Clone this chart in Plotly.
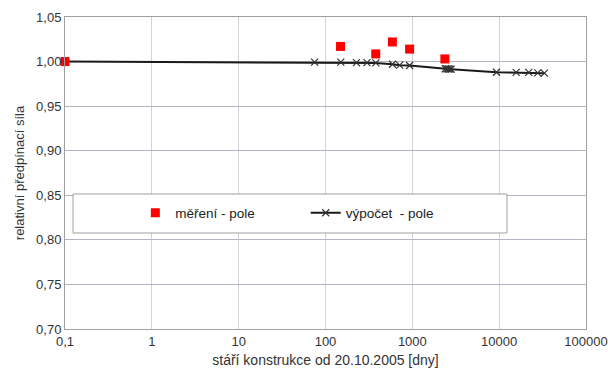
import plotly.graph_objects as go

# measured values (měření - pole)
x_meas = [0.1, 149, 379, 589, 931, 2370]
y_meas = [1.000, 1.017, 1.0086, 1.022, 1.014, 1.003]

# computed values (výpočet - pole)
x_calc = [0.1, 75, 150, 227, 300, 380, 590, 715, 930, 2400, 2500, 2600, 2700, 2800,
          9300, 15700, 21900, 27800, 33200]
y_calc = [1.000, 0.9993, 0.9993, 0.9989, 0.9989, 0.9985, 0.997, 0.996, 0.9956, 0.9919,
          0.9918, 0.9917, 0.9916, 0.9915, 0.988, 0.9878, 0.9878, 0.9874, 0.987]

x_tickvals = [0.1, 1, 10, 100, 1000, 10000, 100000]
x_ticktext = ["0,1", "1", "10", "100", "1000", "10000", "100000"]
y_tickvals = [0.70, 0.75, 0.80, 0.85, 0.90, 0.95, 1.00, 1.05]
y_ticktext = ["0,70", "0,75", "0,80", "0,85", "0,90", "0,95", "1,00", "1,05"]

FONT = "Liberation Sans, Arial, sans-serif"

fig = go.Figure()
fig.add_trace(go.Scatter(
    x=x_calc, y=y_calc, mode="lines+markers", name="výpočet  - pole",
    line=dict(color="#1a1a1a", width=2),
    marker=dict(symbol="x-thin", size=7, line=dict(color="#333333", width=1.2)),
    legend="legend2", cliponaxis=True,
))
fig.add_trace(go.Scatter(
    x=x_meas, y=y_meas, mode="markers", name="měření - pole",
    marker=dict(symbol="square", size=9, color="#ff0000"),
    legend="legend", cliponaxis=False,
))

# legend frame
fig.add_shape(type="rect", xref="paper", yref="paper",
              x0=0.0154, x1=0.8484, y0=0.3077, y1=0.4327,
              line=dict(color="#a0a0a0", width=1), fillcolor="white", layer="above")

legend_common = dict(orientation="h", bgcolor="rgba(0,0,0,0)", borderwidth=0,
                     font=dict(family=FONT, size=13.5, color="#222222"),
                     xanchor="left", yanchor="middle", y=0.372)

fig.update_layout(
    width=608, height=372,
    margin=dict(l=65, r=22, t=17, b=43),
    paper_bgcolor="white", plot_bgcolor="white",
    font=dict(family=FONT, size=13, color="#333333"),
    showlegend=True,
    legend=dict(x=0.135, **legend_common),
    legend2=dict(x=0.462, **legend_common),
    xaxis=dict(
        type="log", range=[-1, 5], automargin=False,
        tickvals=x_tickvals, ticktext=x_ticktext,
        showgrid=True, gridcolor="#d2d3da", gridwidth=1,
        showline=True, mirror=True, linecolor="#a0a0a0", linewidth=1,
        ticks="", tickfont=dict(size=13, color="#333333"),
        ticklabeloverflow="allow",
        title=dict(text="stáří konstrukce od 20.10.2005 [dny]",
                   font=dict(size=14, color="#333333"), standoff=7),
        zeroline=False,
    ),
    yaxis=dict(
        range=[0.70, 1.05], automargin=False,
        tickvals=y_tickvals, ticktext=y_ticktext,
        showgrid=True, gridcolor="#b4b5c2", gridwidth=1,
        showline=True, mirror=True, linecolor="#a0a0a0", linewidth=1,
        ticks="", tickfont=dict(size=13, color="#333333"),
        title=dict(text="relativní předpínací síla",
                   font=dict(size=13, color="#333333"), standoff=8),
        zeroline=False,
    ),
)

fig.write_html("out.html", config={"displayModeBar": False},
               post_script="document.body.style.margin='0';")
